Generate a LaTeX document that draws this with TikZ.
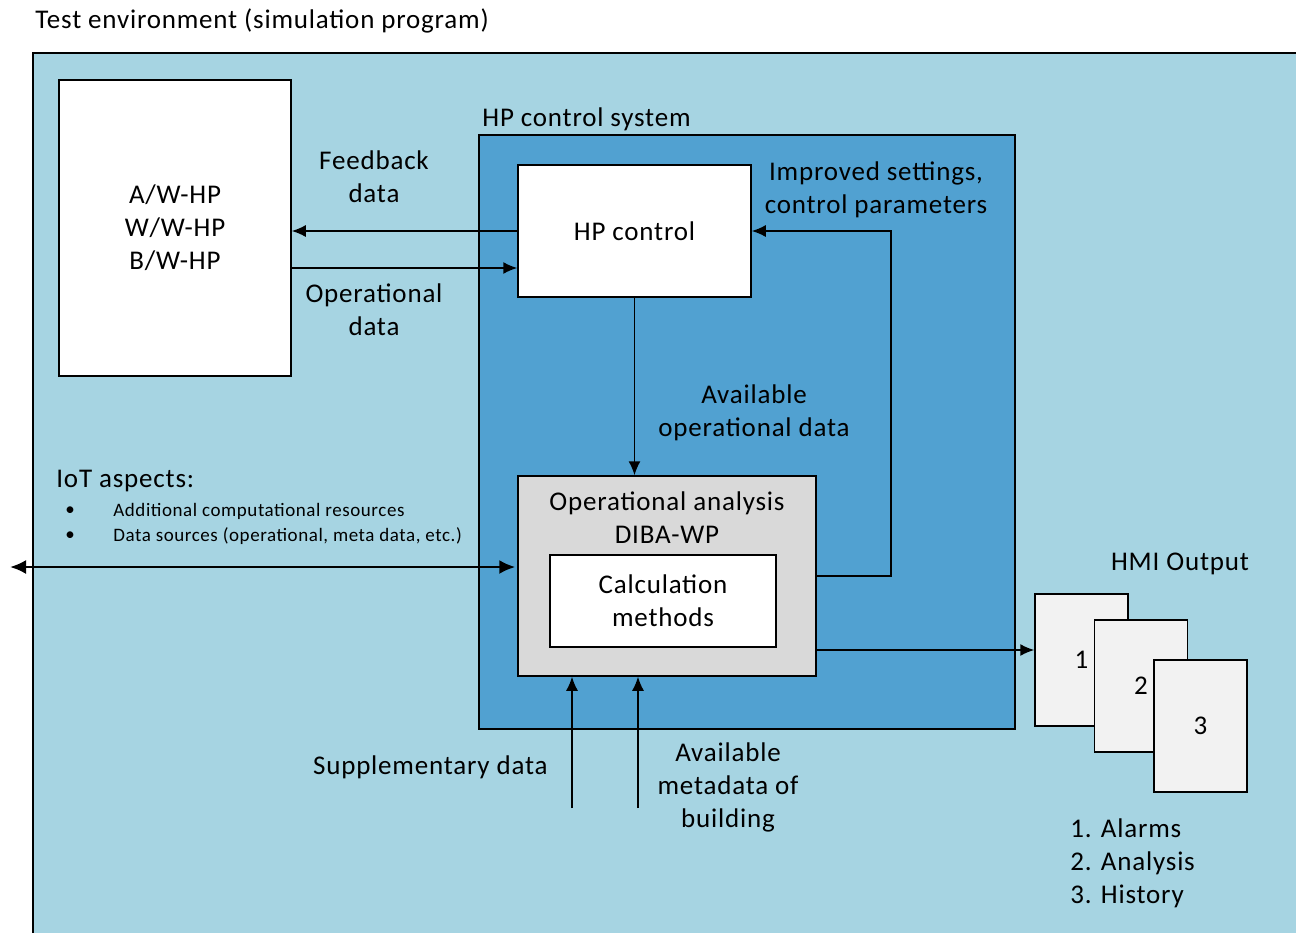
\documentclass[tikz,border=0pt]{standalone}
\usepackage{fontspec}
\setmainfont{Carlito}[LetterSpace=3]
\usetikzlibrary{arrows.meta, positioning}

\definecolor{envblue}{RGB}{166,212,226}
\definecolor{sysblue}{RGB}{81,161,209}
\definecolor{anagray}{RGB}{217,217,217}
\definecolor{pagegray}{RGB}{242,242,242}

\tikzset{
  box/.style={draw, line width=0.75pt, inner sep=0pt, align=center},
  arr/.style={-{Latex[length=7pt,width=6pt]}, line width=0.75pt},
  lbl/.style={align=center, inner sep=0pt},
  small/.style={font=\fontsize{9.5}{11}\selectfont}
}

\begin{document}
\begin{tikzpicture}[x=0.5pt,y=-0.5pt,font=\fontsize{13.5}{16.5}\selectfont]
\useasboundingbox (0,0) rectangle (1296,932);
\clip (0,0) rectangle (1296,932);

% Test environment
\draw[line width=0.75pt, fill=envblue] (33,53) rectangle (1310,945);
\node[lbl, anchor=west] (env) at (35,21) {Test environment (simulation program)};

% Heat pumps
\node[box, fill=white, minimum width=116pt, minimum height=148pt] (hp) at (175,228) {A/W-HP\\W/W-HP\\B/W-HP};

% HP control system
\node[box, fill=sysblue, minimum width=268pt, minimum height=297pt] (sys) at (747,432) {};
\node[lbl, anchor=west] (syslbl) at (482,119) {HP control system};
\node[box, fill=white, minimum width=116.5pt, minimum height=66pt] (ctrl) at (634.5,231) {HP control};
\node[box, fill=anagray, minimum width=149pt, minimum height=100pt] (ana) at (667,576) {};
\node[lbl] (analbl) at (667,518) {Operational analysis\\DIBA-WP};
\node[box, fill=white, minimum width=113pt, minimum height=46pt] (calc) at (663,601) {Calculation\\methods};

% HMI pages
\node[box, fill=pagegray, minimum width=46.5pt, minimum height=66pt] (p1) at (1081.5,660) {1};
\node[box, fill=pagegray, minimum width=46.5pt, minimum height=66pt] (p2) at (1141,686) {2};
\node[box, fill=pagegray, minimum width=46.5pt, minimum height=66pt] (p3) at (1200.5,726) {3};
\node[lbl] (hmi) at (1180,564) {HMI Output};
\node[lbl, anchor=west, align=left] (list) at (1070,863) {1. Alarms\\2. Analysis\\3. History};

% Arrows
\draw[arr] (ctrl.west) -- (ctrl.west -| hp.east);
\draw[arr] ([yshift=-20pt]hp.east) -- ([yshift=-20pt]hp.east -| ctrl.west);
\draw[arr] (ctrl.south) -- (ctrl.south |- ana.north);
\draw[arr] (ana.east) -- ++(74,0) |- (ctrl.east);
\draw[arr] ([yshift=5pt]p1.west -| ana.east) -- ([yshift=5pt]p1.west);
\coordinate (sup) at (572,808);
\coordinate (meta) at (638,808);
\draw[arr] (sup) -- (sup |- ana.south);
\draw[arr] (meta) -- (meta |- ana.south);
\coordinate (iot) at (10,567);
\draw[{Latex[length=8pt,width=7pt]}-{Latex[length=8pt,width=7pt]}, line width=1.2pt] (iot) -- ([xshift=-1pt]iot -| ana.west);

% Labels
\node[lbl] (fb) at (374,177) {Feedback\\data};
\node[lbl] (op) at (374,310) {Operational\\data};
\node[lbl] (avail) at (754,413) {Available\\operational data};
\node[lbl] (impr) at (876,190) {Improved settings,\\control parameters};
\node[lbl, anchor=east] (suplbl) at (548,767) {Supplementary data};
\node[lbl] (metalbl) at (728,787) {Available\\metadata of\\building};

% IoT aspects
\node[lbl, anchor=west] (iotlbl) at (56,481) {IoT aspects:};
\node[lbl, small] (b1) at (70,511) {\textbullet};
\node[lbl, small] (b2) at (70,536) {\textbullet};
\node[lbl, anchor=west, small] (t1) at (113,511) {Additional computational resources};
\node[lbl, anchor=west, small] (t2) at (113,536) {Data sources (operational, meta data, etc.)};
\end{tikzpicture}
\end{document}
